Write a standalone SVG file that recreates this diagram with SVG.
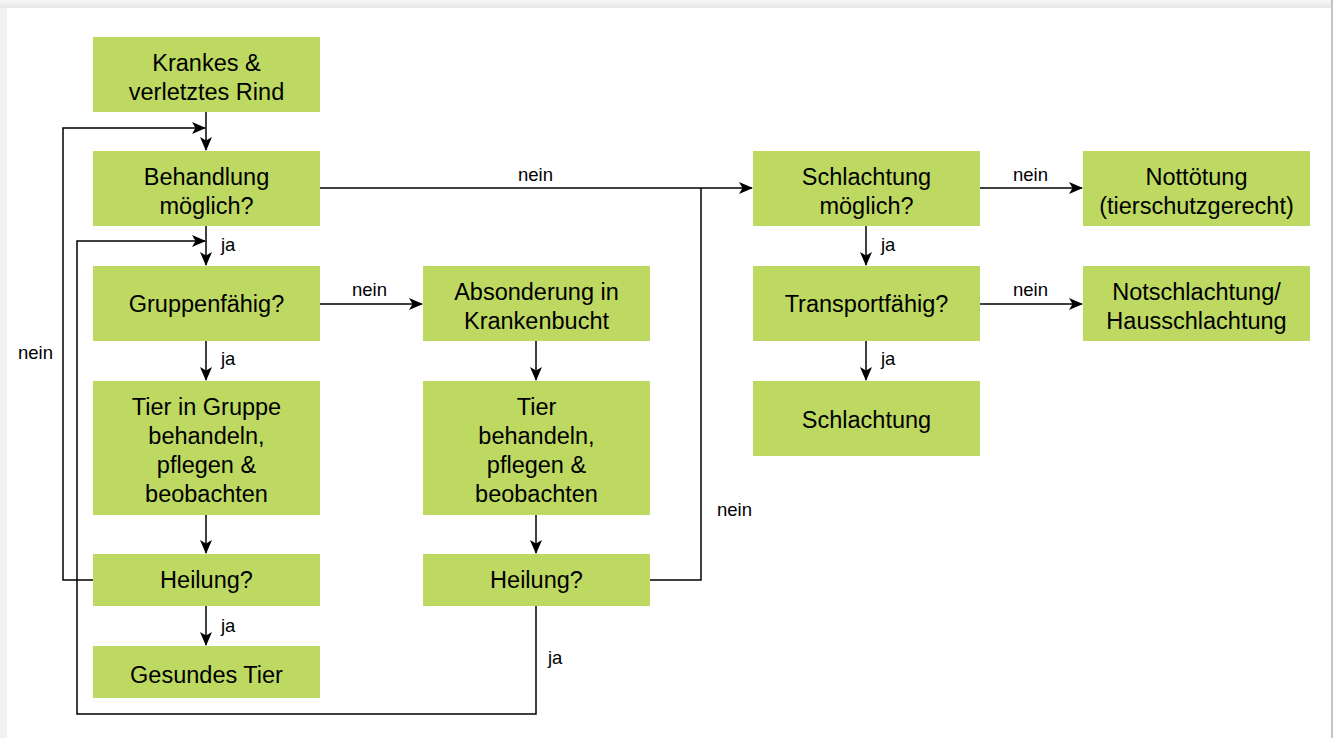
<svg xmlns="http://www.w3.org/2000/svg" width="1333" height="738" viewBox="0 0 1333 738">
<style>
.n{fill:#BED962;}
.t{font-family:"Liberation Sans",Arial,sans-serif;font-size:23.5px;fill:#000;text-anchor:middle;}
.l{font-family:"Liberation Sans",Arial,sans-serif;font-size:18.5px;fill:#000;}
.c{fill:none;stroke:#000;stroke-width:1.5;}
</style>
<defs>
<marker id="a" viewBox="0 0 14 12" refX="13" refY="6" markerWidth="14" markerHeight="12" markerUnits="userSpaceOnUse" orient="auto">
<path d="M0,0 L14,6 L0,12 L3.5,6 z" fill="#000"/>
</marker>
<linearGradient id="sh" x1="0" y1="0" x2="0" y2="1"><stop offset="0" stop-color="#f7f7f7"/><stop offset="1" stop-color="#e6e6e6"/></linearGradient>
</defs>
<rect x="0" y="0" width="1333" height="738" fill="#f2f2f2"/>
<rect x="0" y="0" width="1333" height="8" fill="url(#sh)"/>
<rect x="1331" y="0" width="2" height="738" fill="#c4c4c4"/>
<rect x="7" y="8" width="1324" height="730" fill="#fff"/>
<g id="connectors">
<path class="c" d="M206,112 V150" marker-end="url(#a)"/>
<path class="c" d="M93,580 H63 V128 H205" marker-end="url(#a)"/>
<path class="c" d="M206,226 V265" marker-end="url(#a)"/>
<path class="c" d="M536,606 V714 H77 V241 H205" marker-end="url(#a)"/>
<path class="c" d="M320,188 H752" marker-end="url(#a)"/>
<path class="c" d="M650,580 H701 V188"/>
<path class="c" d="M320,304 H422" marker-end="url(#a)"/>
<path class="c" d="M206,341 V380" marker-end="url(#a)"/>
<path class="c" d="M206,515 V553" marker-end="url(#a)"/>
<path class="c" d="M206,606 V645" marker-end="url(#a)"/>
<path class="c" d="M536,341 V380" marker-end="url(#a)"/>
<path class="c" d="M536,515 V553" marker-end="url(#a)"/>
<path class="c" d="M980,188 H1082" marker-end="url(#a)"/>
<path class="c" d="M866,226 V265" marker-end="url(#a)"/>
<path class="c" d="M980,304 H1082" marker-end="url(#a)"/>
<path class="c" d="M866,341 V380" marker-end="url(#a)"/>
<text class="l" x="18" y="359">nein</text>
<text class="l" x="221" y="251">ja</text>
<text class="l" x="548" y="664">ja</text>
<text class="l" x="518" y="181">nein</text>
<text class="l" x="717" y="516">nein</text>
<text class="l" x="352" y="296">nein</text>
<text class="l" x="221" y="365">ja</text>
<text class="l" x="221" y="632">ja</text>
<text class="l" x="1013" y="181">nein</text>
<text class="l" x="881" y="251">ja</text>
<text class="l" x="1013" y="296">nein</text>
<text class="l" x="881" y="365">ja</text>
</g>
<g id="n1"><rect class="n" x="93" y="37" width="227" height="75"/><text class="t" x="206.5" y="71">Krankes &amp;</text><text class="t" x="206.5" y="100">verletztes Rind</text></g>
<g id="n2"><rect class="n" x="93" y="151" width="227" height="75"/><text class="t" x="206.5" y="185">Behandlung</text><text class="t" x="206.5" y="214">möglich?</text></g>
<g id="n3"><rect class="n" x="93" y="266" width="227" height="75"/><text class="t" x="206.5" y="312">Gruppenfähig?</text></g>
<g id="n4"><rect class="n" x="93" y="381" width="227" height="134"/><text class="t" x="206.5" y="415">Tier in Gruppe</text><text class="t" x="206.5" y="444">behandeln,</text><text class="t" x="206.5" y="473">pflegen &amp;</text><text class="t" x="206.5" y="502">beobachten</text></g>
<g id="n5"><rect class="n" x="93" y="554" width="227" height="52"/><text class="t" x="206.5" y="588">Heilung?</text></g>
<g id="n6"><rect class="n" x="93" y="646" width="227" height="52"/><text class="t" x="206.5" y="683">Gesundes Tier</text></g>
<g id="n7"><rect class="n" x="423" y="266" width="227" height="75"/><text class="t" x="536.5" y="300">Absonderung in</text><text class="t" x="536.5" y="329">Krankenbucht</text></g>
<g id="n8"><rect class="n" x="423" y="381" width="227" height="134"/><text class="t" x="536.5" y="415">Tier</text><text class="t" x="536.5" y="444">behandeln,</text><text class="t" x="536.5" y="473">pflegen &amp;</text><text class="t" x="536.5" y="502">beobachten</text></g>
<g id="n9"><rect class="n" x="423" y="554" width="227" height="52"/><text class="t" x="536.5" y="588">Heilung?</text></g>
<g id="n10"><rect class="n" x="753" y="151" width="227" height="75"/><text class="t" x="866.5" y="185">Schlachtung</text><text class="t" x="866.5" y="214">möglich?</text></g>
<g id="n11"><rect class="n" x="753" y="266" width="227" height="75"/><text class="t" x="866.5" y="312">Transportfähig?</text></g>
<g id="n12"><rect class="n" x="753" y="381" width="227" height="75"/><text class="t" x="866.5" y="428">Schlachtung</text></g>
<g id="n13"><rect class="n" x="1083" y="151" width="227" height="75"/><text class="t" x="1196.5" y="185">Nottötung</text><text class="t" x="1196.5" y="214">(tierschutzgerecht)</text></g>
<g id="n14"><rect class="n" x="1083" y="266" width="227" height="75"/><text class="t" x="1196.5" y="300">Notschlachtung/</text><text class="t" x="1196.5" y="329">Hausschlachtung</text></g>
</svg>
